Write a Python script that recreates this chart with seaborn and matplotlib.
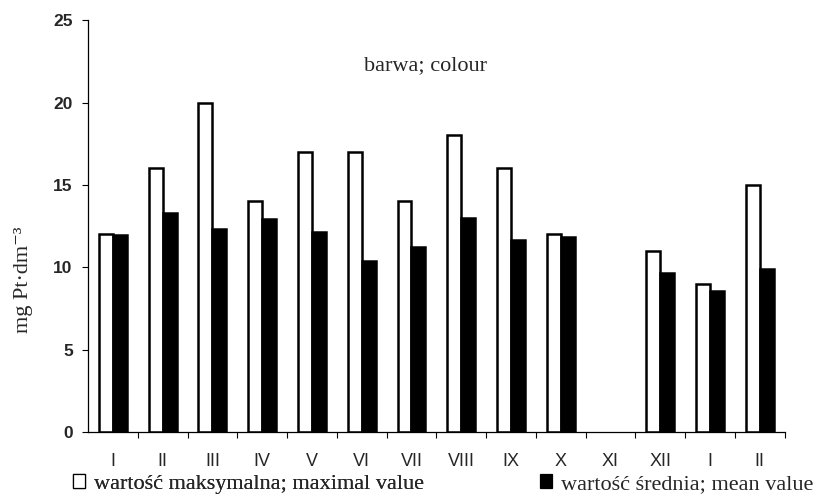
import numpy as np
import pandas as pd
import matplotlib
matplotlib.use("Agg")
import matplotlib.pyplot as plt
import seaborn as sns
from matplotlib.patches import Patch

months = ["I", "II", "III", "IV", "V", "VI", "VII", "VIII", "IX", "X", "XI", "XII", "I", "II"]
max_vals = [12, 16, 20, 14, 17, 17, 14, 18, 16, 12, np.nan, 11, 9, 15]
mean_vals = [11.95, 13.3, 12.3, 12.95, 12.15, 10.35, 11.2, 13.0, 11.65, 11.85, np.nan, 9.65, 8.55, 9.9]
series = ["max", "mean"]

pos = list(range(len(months)))
df = pd.DataFrame({
    "pos": pos * 2,
    "value": max_vals + mean_vals,
    "kind": [series[0]] * len(pos) + [series[1]] * len(pos),
})

sns.set_theme(style="ticks")
serif = ["Liberation Serif", "DejaVu Serif"]
sans = ["Liberation Sans", "DejaVu Sans"]
narrow = ["Liberation Sans Narrow", "Liberation Sans", "DejaVu Sans"]

fig = plt.figure(figsize=(8.13, 4.95), dpi=100)
ax = fig.add_axes([0.1082, 0.1273, 0.857, 0.832])

sns.barplot(data=df, x="pos", y="value", hue="kind", order=pos, hue_order=series,
            palette={"max": "white", "mean": "black"}, edgecolor="black",
            linewidth=1.8, width=0.56, gap=0, legend=False, ax=ax)

ax.set_xlim(-0.5, len(months) - 0.5)
ax.set_ylim(0, 25)
ax.set_yticks([0, 5, 10, 15, 20, 25])
ax.set_yticklabels(["0", "5", "10", "15", "20", "25"], fontfamily=sans, fontsize=12.5,
                   fontweight="bold")
ax.set_xticks(pos)
ax.set_xticklabels(months, fontfamily=narrow, fontsize=13)
ax.tick_params(axis="x", which="major", length=0, pad=15)
ax.set_xticks([p + 0.5 for p in pos], minor=True)
ax.tick_params(axis="x", which="minor", length=4, width=0.8, direction="out", color="black")
ax.tick_params(axis="y", length=4, width=0.8, color="black", pad=7)
ax.set_xlabel("")
ax.set_ylabel("mg Pt·dm⁻³", fontfamily=serif, fontsize=16)
ax.yaxis.set_label_coords(-0.079, 0.37)
sns.despine(ax=ax)
for s in ["left", "bottom"]:
    ax.spines[s].set_linewidth(0.9)
    ax.spines[s].set_color("black")

ax.text(0.485, 0.89, "barwa; colour", transform=ax.transAxes, ha="center", va="center",
        fontfamily=serif, fontsize=16)

h1 = [Patch(facecolor="white", edgecolor="black", linewidth=0.9)]
h2 = [Patch(facecolor="black", edgecolor="black", linewidth=0.9)]
common = dict(loc="center left", frameon=False, handlelength=0.55, handleheight=0.55,
              handletextpad=0.4, borderpad=0, borderaxespad=0,
              prop={"family": serif, "size": 16})
leg1 = fig.legend(h1, ["wartość maksymalna; maximal value"], bbox_to_anchor=(0.090, 0.022), **common)
leg2 = fig.legend(h2, ["wartość średnia; mean value"], bbox_to_anchor=(0.664, 0.022), **common)
fig.add_artist(leg1)

fig.savefig("out.png", dpi=100)
